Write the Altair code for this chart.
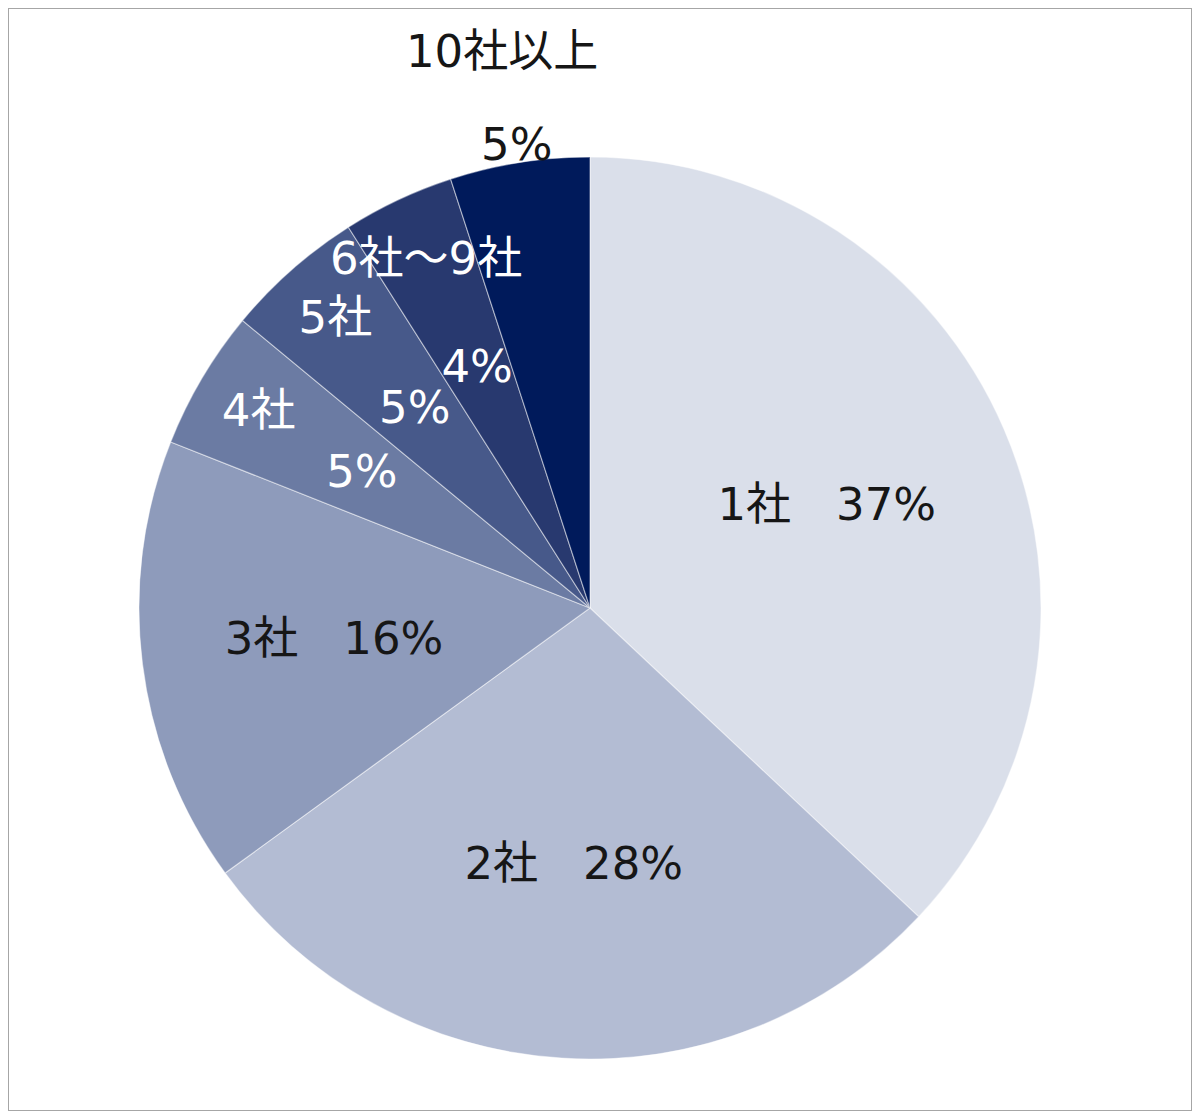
import math
import altair as alt
import pandas as pd

# ---- data ----
names = ["1社", "2社", "3社", "4社", "5社", "6社～9社", "10社以上"]
shares = [37, 28, 16, 5, 5, 4, 5]
pct_labels = ["37%", "28%", "16%", "5%", "5%", "4%", "5%"]
label_kind = ["big", "big", "big", "inner", "inner", "inner", "outer"]

# ---- styles ----
colors = ["#DADFEA", "#B3BCD3", "#8E9BBB", "#6B7BA3", "#47598A", "#28396F", "#001A5B"]
FONT = "DejaVu Sans, Noto Sans CJK JP, sans-serif"
FS = 45
CX, CY = 582, 600
R = 451

df = pd.DataFrame({
    "order": list(range(len(names))),
    "name": names,
    "share": shares,
    "pct": pct_labels,
    "kind": label_kind,
})

theta_scale = alt.Scale(domain=[0, sum(shares)], range=[0, 2 * math.pi])

base = alt.Chart(df).transform_window(
    end="sum(share)", sort=[alt.SortField("order")], frame=[None, 0]
).transform_calculate(
    start="datum.end - datum.share",
    mid="datum.end - datum.share / 2",
)

arcs = base.mark_arc(
    radius=R, stroke="#FFFFFF", strokeWidth=1.2, strokeOpacity=0.45
).encode(
    theta=alt.Theta("start:Q", scale=theta_scale, stack=False),
    theta2="end:Q",
    color=alt.Color("name:N", scale=alt.Scale(domain=names, range=colors), legend=None),
    order=alt.Order("order:Q"),
    x=alt.value(CX),
    y=alt.value(CY),
)


def text_layer(kind, field, radius, color, expr=None):
    ch = base.transform_filter(f"datum.kind == '{kind}'")
    if expr is not None:
        ch = ch.transform_calculate(txt=expr)
    else:
        ch = ch.transform_calculate(txt=f"datum.{field}")
    return ch.mark_text(
        radius=radius, font=FONT, fontSize=FS, color=color,
        align="center", baseline="middle",
    ).encode(
        theta=alt.Theta("mid:Q", scale=theta_scale, stack=False),
        text="txt:N",
        x=alt.value(CX),
        y=alt.value(CY),
    )


big = text_layer("big", None, 258, "#161616", expr="datum.name + '\u3000' + datum.pct")
inner_name = text_layer("inner", "name", 385, "#FFFFFF")
inner_val = text_layer("inner", "pct", 265, "#FFFFFF")
outer_name = text_layer("outer", "name", 562, "#161616")
outer_val = text_layer("outer", "pct", 468, "#161616")

chart = alt.layer(arcs, big, inner_name, inner_val, outer_name, outer_val).properties(
    width=1184, height=1103, autosize="none", padding=0, background="#FFFFFF"
).configure_view(stroke="#A6A6A6", strokeWidth=2)

chart.save("out.html", embed_options={"renderer": "svg", "actions": False})
